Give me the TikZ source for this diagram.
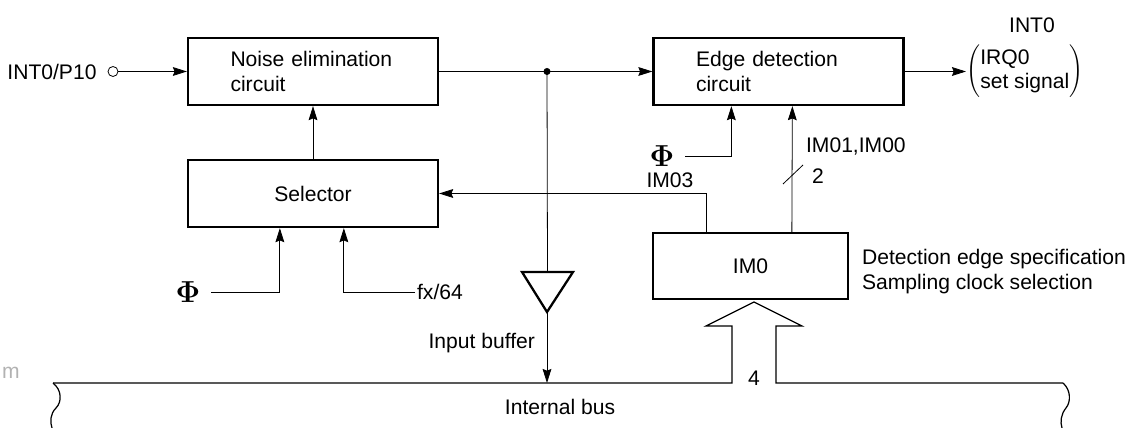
\documentclass[tikz,border=0pt]{standalone}
\usepackage{fontspec}
\setmainfont{Liberation Sans}
\usetikzlibrary{positioning, arrows.meta, calc}

\begin{document}
\begin{tikzpicture}[x=0.02cm, y=-0.02cm,
          every node/.style={font=\fontsize{12}{14}\selectfont},
          block/.style={draw, line width=1.3pt, minimum width=5cm, minimum height=1.34cm, inner xsep=0.85cm, text width=3.3cm, align=left},
          regbox/.style={draw, line width=1.3pt, minimum width=3.9cm, minimum height=1.32cm},
          sig/.style={line width=0.45pt},
          arr/.style={sig, -{Stealth[length=8pt, width=5pt, inset=1pt]}},
          lbl/.style={inner sep=1pt},
          clk/.style={inner sep=1pt, inner xsep=6pt, font=\fontsize{16}{18}\selectfont\mathversion{bold}}]
        \useasboundingbox (0,0) rectangle (1137,428);
        \node[block] (noise) at (313,71.5) {Noise elimination\\circuit};
        \node[block] (edge) at (778.5,71.5) {Edge detection\\circuit};
        \node[block, align=center] (sel) at (313,193.5) {Selector};
        \node[regbox] (im0) at (750.5,266) {IM0};
        \node[circle, draw, sig, inner sep=0pt, minimum size=0.2cm] (pin) at (113,71.5) {};
        \node[lbl, left=0.18cm of pin] (pinlbl) {INT0/P10};
        \coordinate (split) at (547,71.5);
        \draw[arr] (pin.east) -- (noise.west);
        \draw[sig] (noise.east) -- (split);
        \draw[arr] (split) -- (edge.west);
        \fill (split) circle (2pt);
        \draw[arr] (sel.north) -- (noise.south);
        % input buffer
        \coordinate (bufl) at (522,272);
        \coordinate (bufr) at (573,272);
        \coordinate (buft) at (547,312);
        \coordinate (busin) at (547,383);
        \draw[line width=1.3pt] (bufl) -- (bufr) -- (buft) -- cycle;
        \draw[sig] (split) -- ($(bufl)!0.5!(bufr)$);
        \draw[arr] (buft) -- (busin);
        \node[lbl, anchor=east] (buflbl) at (537,343) {Input buffer};
        % output
        \node[anchor=west, inner sep=0pt] (out) at (966,71.5) {$\left(\mbox{\begin{tabular}{@{}l@{}}IRQ0\\set signal\end{tabular}}\right)$};
        \node[lbl] (int0) at (1032,25) {INT0};
        \draw[arr] (edge.east) -- (out.west);
        % edge detection inputs
        \node[clk] (phie) at (662,156) {$\Phi$};
        \draw[arr] (phie) -| ([xshift=1.58cm]edge.south west);
        \draw[arr] ([xshift=2.8cm]im0.north west) -- ([xshift=2.8cm]edge.south west);
        \node[lbl, anchor=west] (imlbl) at (804,146) {IM01,IM00};
        \draw[sig] (783,184) -- (803,165);
        \node[lbl] (two) at (818,176) {2};
        \draw[arr] ([xshift=1.1cm]im0.north west) |- (sel.east);
        \node[lbl] (im03) at (670,180) {IM03};
        % selector inputs
        \node[clk] (phis) at (188,292) {$\Phi$};
        \draw[arr] (phis) -| ([xshift=1.86cm]sel.south west);
        \node[lbl, anchor=west] (fx) at (415,292) {fx/64};
        \draw[arr] (fx.west) -| ([xshift=3.14cm]sel.south west);
        \node[lbl, anchor=west, align=left] (imdesc) at (860,271.5) {Detection edge specification\\Sampling clock selection};
        % internal bus
        \draw[line width=0.7pt] (53,383) -- (732,383) -- (732,326) -- (706,326) -- (754,302) -- (802,326) -- (776,326) -- (776,383) -- (1063,383);
        \draw[line width=0.7pt] (53,383) .. controls (62,390) and (62,402) .. (56,408) .. controls (50,414) and (50,422) .. (52,428);
        \draw[line width=0.7pt] (1063,383) .. controls (1071,390) and (1071,402) .. (1066,408) .. controls (1061,414) and (1060,422) .. (1062,428);
        \node[lbl] (busnum) at (754,378) {4};
        \node[lbl] (buslbl) at (560,407) {Internal bus};
        \node[lbl, text=gray!60] (cut) at (11,373) {m};
      \end{tikzpicture}
\end{document}
